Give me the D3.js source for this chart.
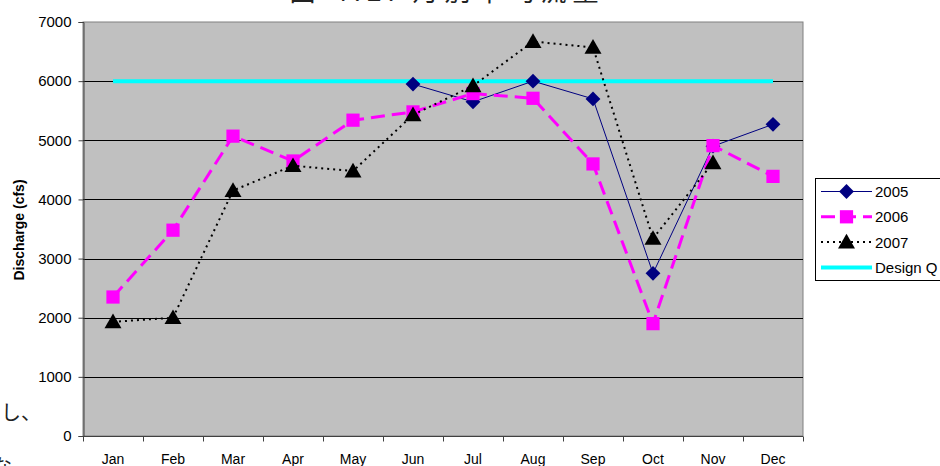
<!DOCTYPE html>
<html>
<head>
<meta charset="utf-8">
<script src="https://cdn.jsdelivr.net/npm/d3@7/dist/d3.min.js"></script>
<style>
  html, body { margin: 0; padding: 0; background: #fff; }
  svg { display: block; }
</style>
</head>
<body>
<svg id="chart" width="940" height="466"></svg>
<script>
// Monthly discharge by year, with the design flow for reference
const months = ["Jan","Feb","Mar","Apr","May","Jun","Jul","Aug","Sep","Oct","Nov","Dec"];
const q2005 = [null, null, null, null, null, 5950, 5650, 6000, 5700, 2750, 4900, 5270];
const q2006 = [2350, 3480, 5070, 4650, 5340, 5480, 5790, 5710, 4600, 1900, 4910, 4390];
const q2007 = [1930, 2000, 4150, 4570, 4480, 5430, 5920, 6670, 6570, 3340, 4620, null];
const designQ = [6000, 6000, 6000, 6000, 6000, 6000, 6000, 6000, 6000, 6000, 6000, 6000];
const yTicks = [0, 1000, 2000, 3000, 4000, 5000, 6000, 7000];
const seriesNames = ["2005", "2006", "2007", "Design Q"];

const svg = d3.select("#chart");
const FONT = "'Liberation Sans', Arial, sans-serif";
const CJK = "'Noto Sans CJK JP', sans-serif";

const plot = { left: 83, right: 803, top: 22, bottom: 436 };

const x = d3.scaleBand().domain(months).range([plot.left, plot.right]).padding(0);
const y = d3.scaleLinear().domain([0, 7000]).range([plot.bottom, plot.top]);
const cx = m => x(m) + x.bandwidth() / 2;

// Caption text above the chart (only its lower edge shows)
svg.append("text")
  .attr("x", 447).attr("y", 1)
  .attr("text-anchor", "middle")
  .attr("font-family", CJK)
  .attr("font-size", 26)
  .attr("letter-spacing", 6)
  .attr("fill", "#222")
  .text("図 4.2: 月別平均流量");

// Body text fragments at the left margin
svg.append("text")
  .attr("x", 1).attr("y", 420)
  .attr("font-family", CJK)
  .attr("font-size", 20).attr("fill", "#222")
  .text("し、");
svg.append("text")
  .attr("x", -8).attr("y", 474)
  .attr("font-family", CJK)
  .attr("font-size", 20).attr("fill", "#222")
  .text("な");

// Plot area
svg.append("rect")
  .attr("x", plot.left).attr("y", plot.top)
  .attr("width", plot.right - plot.left).attr("height", plot.bottom - plot.top)
  .attr("fill", "#C0C0C0").attr("stroke", "#808080").attr("stroke-width", 1);

// Horizontal gridlines
svg.append("g")
  .selectAll("line")
  .data(yTicks.filter(t => t > 0 && t < 7000))
  .join("line")
  .attr("x1", plot.left).attr("x2", plot.right)
  .attr("y1", d => Math.round(y(d)) + 0.5).attr("y2", d => Math.round(y(d)) + 0.5)
  .attr("stroke", "#000").attr("stroke-width", 1);

// Y axis
const yAxis = svg.append("g")
  .attr("transform", `translate(${plot.left + 0.5},0)`)
  .call(d3.axisLeft(y).tickValues(yTicks).tickSize(5).tickPadding(7).tickFormat(d3.format("d")));
yAxis.select(".domain").attr("stroke", "#404040");
yAxis.selectAll(".tick line").attr("stroke", "#404040");
yAxis.selectAll(".tick text")
  .attr("font-family", FONT).attr("font-size", 15).attr("fill", "#000");

// X axis: ticks at category boundaries, labels centred in each band
const xAxisG = svg.append("g").attr("transform", `translate(0,${plot.bottom + 0.5})`);
xAxisG.append("line")
  .attr("x1", plot.left).attr("x2", plot.right)
  .attr("stroke", "#404040");
const bounds = months.map(m => x(m)).concat([x(months[months.length - 1]) + x.bandwidth()]);
xAxisG.selectAll("line.tk")
  .data(bounds)
  .join("line").attr("class", "tk")
  .attr("x1", d => Math.round(d) + 0.5).attr("x2", d => Math.round(d) + 0.5)
  .attr("y1", 0).attr("y2", 5)
  .attr("stroke", "#404040");
xAxisG.selectAll("text")
  .data(months)
  .join("text")
  .attr("x", d => cx(d)).attr("y", 27)
  .attr("text-anchor", "middle")
  .attr("font-family", FONT).attr("font-size", 14).attr("fill", "#000")
  .text(d => d);

// Y axis title
svg.append("text")
  .attr("transform", `translate(24,230) rotate(-90)`)
  .attr("text-anchor", "middle")
  .attr("font-family", FONT).attr("font-size", 14).attr("font-weight", "bold")
  .text("Discharge (cfs)");

// Series styles
const styles = {
  "2005": { color: "#000080", width: 1, dash: null, symbol: "diamond", size: 110 },
  "2006": { color: "#FF00FF", width: 3, dash: "14,7", symbol: "square", size: 175 },
  "2007": { color: "#000000", width: 2, dash: "2,4", symbol: "triangle", size: 125 },
  "Design Q": { color: "#00FFFF", width: 4, dash: null, symbol: null, size: 0 }
};

function marker(g, kind, size, color, px, py) {
  const sym = kind === "triangle" ? d3.symbolTriangle : d3.symbolSquare;
  const rot = kind === "diamond" ? 45 : 0;
  const dy = kind === "triangle" ? 1.5 : 0;
  g.append("path")
    .attr("transform", `translate(${px},${py + dy}) rotate(${rot})`)
    .attr("d", d3.symbol().type(sym).size(size)())
    .attr("fill", color);
}

const line = d3.line()
  .defined(d => d.v !== null)
  .x(d => cx(d.m))
  .y(d => y(d.v));

function drawSeries(name, values) {
  const st = styles[name];
  const pts = months.map((m, i) => ({ m, v: values[i] }));
  const g = svg.append("g");
  g.append("path")
    .datum(pts)
    .attr("d", line)
    .attr("fill", "none")
    .attr("stroke", st.color)
    .attr("stroke-width", st.width)
    .attr("stroke-dasharray", st.dash);
  if (st.symbol) {
    pts.filter(p => p.v !== null)
      .forEach(p => marker(g, st.symbol, st.size, st.color, cx(p.m), y(p.v)));
  }
}

drawSeries("Design Q", designQ);
drawSeries("2005", q2005);
drawSeries("2006", q2006);
drawSeries("2007", q2007);

// Legend
const legend = svg.append("g");
legend.append("rect")
  .attr("x", 815.5).attr("y", 178.5)
  .attr("width", 140).attr("height", 102)
  .attr("fill", "#fff").attr("stroke", "#000").attr("stroke-width", 1);

seriesNames.forEach((name, i) => {
  const st = styles[name];
  const ly = 191.5 + i * 25.3;
  legend.append("line")
    .attr("x1", 821).attr("x2", 872)
    .attr("y1", ly).attr("y2", ly)
    .attr("stroke", st.color).attr("stroke-width", st.width)
    .attr("stroke-dasharray", st.dash);
  if (st.symbol) marker(legend, st.symbol, st.size, st.color, 846.5, ly);
  legend.append("text")
    .attr("x", 875).attr("y", ly + 5.5)
    .attr("font-family", FONT).attr("font-size", 15).attr("fill", "#000")
    .text(name);
});
</script>
</body>
</html>
